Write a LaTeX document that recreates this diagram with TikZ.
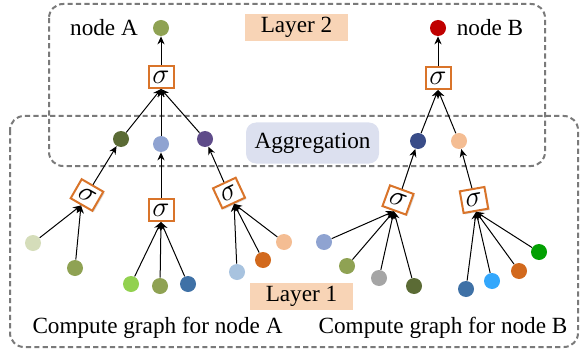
\documentclass[tikz,border=0pt]{standalone}
\usepackage{fontspec}
\setmainfont{Liberation Serif}
\usetikzlibrary{arrows.meta,shadows}

\definecolor{sigorange}{HTML}{D9742A}
\definecolor{tagpeach}{HTML}{F8D4B6}
\definecolor{agglilac}{HTML}{DCE0EF}
\definecolor{framegray}{HTML}{7A7A7A}
\definecolor{olive}{HTML}{8FA253}
\definecolor{darkolive}{HTML}{5B6B35}
\definecolor{paleolive}{HTML}{D5DDBA}
\definecolor{lilacblue}{HTML}{8FA3D1}
\definecolor{plum}{HTML}{5F4C8A}
\definecolor{navy}{HTML}{394C88}
\definecolor{peach}{HTML}{F4BD93}
\definecolor{lime}{HTML}{92D14F}
\definecolor{steel}{HTML}{3F71A6}
\definecolor{skyish}{HTML}{A8C3DF}
\definecolor{rust}{HTML}{D2691D}
\definecolor{ash}{HTML}{A5A5A5}
\definecolor{azure}{HTML}{33A7FC}
\definecolor{grass}{HTML}{02A002}
\definecolor{crimson}{HTML}{C00000}

\begin{document}
\begin{tikzpicture}[
    x=0.5pt, y=-0.5pt,
    font=\fontsize{11.6}{13}\selectfont,
    dot/.style={circle, minimum size=8pt, inner sep=0pt},
    act/.style={rectangle, draw=sigorange, line width=1pt, fill=white, minimum width=12.5pt, minimum height=11pt, inner sep=0pt,
        font=\fontsize{14}{14}\selectfont, drop shadow={opacity=0.25, shadow xshift=0.7pt, shadow yshift=-0.7pt}},
    tag/.style={rectangle, fill=tagpeach, minimum width=51.5pt, minimum height=13.5pt, inner sep=0pt},
    frame/.style={draw=framegray, dashed, dash pattern=on 2.6pt off 1.6pt, line width=1pt, rounded corners=7pt},
    arrow/.style={line width=0.5pt, -{Stealth[length=4pt, width=3.6pt]}}
]
    \useasboundingbox (0,0) rectangle (581,352);

    % Dashed layer frames
    \draw [frame] (49,4) rectangle (545,166);
    \draw [frame] (10,116) rectangle (578,347);

    % Labels
    \node [tag] (layer2) at (296.5,27.5) {Layer 2};
    \node [tag] (layer1) at (301.5,296.5) {Layer 1};
    \node [rectangle, fill=agglilac, rounded corners=5pt, minimum width=66.5pt, minimum height=20.5pt, inner sep=0pt] (agg) at (312.5,143) {Aggregation};
    \node (labA) at (104,28) {node A};
    \node (labB) at (490,28) {node B};
    \node (cgA) at (157.5,328) {Compute graph for node A};
    \node (cgB) at (443,328) {Compute graph for node B};

    % Target nodes
    \node [dot, fill=olive] (nA) at (161,28) {};
    \node [dot, fill=crimson] (nB) at (438,28) {};

    % Layer 2 activations
    \node [act] (sA) at (161,77) {$\sigma$};
    \node [act] (sB) at (438,78) {$\sigma$};

    % Neighbours (aggregation)
    \node [dot, fill=darkolive] (mA1) at (121,139) {};
    \node [dot, fill=lilacblue] (mA2) at (161,144) {};
    \node [dot, fill=plum] (mA3) at (205,139) {};
    \node [dot, fill=navy] (mB1) at (418,141) {};
    \node [dot, fill=peach] (mB2) at (459,141) {};

    % Layer 1 activations
    \node [act, rotate=-30] (sA1) at (87,195) {$\sigma$};
    \node [act] (sA2) at (161,210) {$\sigma$};
    \node [act, rotate=25] (sA3) at (229,193) {$\sigma$};
    \node [act, rotate=-20] (sB1) at (398,200) {$\sigma$};
    \node [act, rotate=10] (sB2) at (474,200) {$\sigma$};

    % Leaves
    \node [dot, fill=paleolive] (lA11) at (33,243) {};
    \node [dot, fill=olive] (lA12) at (75,268) {};
    \node [dot, fill=lime] (lA21) at (131,284) {};
    \node [dot, fill=olive] (lA22) at (160,286) {};
    \node [dot, fill=steel] (lA23) at (188,284) {};
    \node [dot, fill=skyish] (lA31) at (237,272) {};
    \node [dot, fill=rust] (lA32) at (263,260) {};
    \node [dot, fill=peach] (lA33) at (284,242) {};
    \node [dot, fill=lilacblue] (lB11) at (324,242) {};
    \node [dot, fill=olive] (lB12) at (347,266) {};
    \node [dot, fill=ash] (lB13) at (379,278) {};
    \node [dot, fill=darkolive] (lB14) at (414,286) {};
    \node [dot, fill=steel] (lB21) at (466,289) {};
    \node [dot, fill=azure] (lB22) at (492,281) {};
    \node [dot, fill=rust] (lB23) at (519,271) {};
    \node [dot, fill=grass] (lB24) at (539,252) {};

    % Arrows, layer 2
    \draw [arrow] (sA.north) -- (nA);
    \draw [arrow] (sB.north) -- (nB);
    \foreach \m in {mA1,mA2,mA3}
        \draw [arrow] (\m) -- (sA.south);
    \foreach \m in {mB1,mB2}
        \draw [arrow] (\m) -- (sB.south);

    % Arrows, layer 1
    \draw [arrow] (sA1.north) -- (mA1);
    \draw [arrow] (sA2.north) -- (mA2);
    \draw [arrow] (sA3.north) -- (mA3);
    \draw [arrow] (sB1.north) -- (mB1);
    \draw [arrow] (sB2.north) -- (mB2);
    \foreach \l in {lA11,lA12}
        \draw [arrow] (\l) -- (sA1.south);
    \foreach \l in {lA21,lA22,lA23}
        \draw [arrow] (\l) -- (sA2.south);
    \foreach \l in {lA31,lA32,lA33}
        \draw [arrow] (\l) -- (sA3.south);
    \foreach \l in {lB11,lB12,lB13,lB14}
        \draw [arrow] (\l) -- (sB1.south);
    \foreach \l in {lB21,lB22,lB23,lB24}
        \draw [arrow] (\l) -- (sB2.south);
\end{tikzpicture}
\end{document}
